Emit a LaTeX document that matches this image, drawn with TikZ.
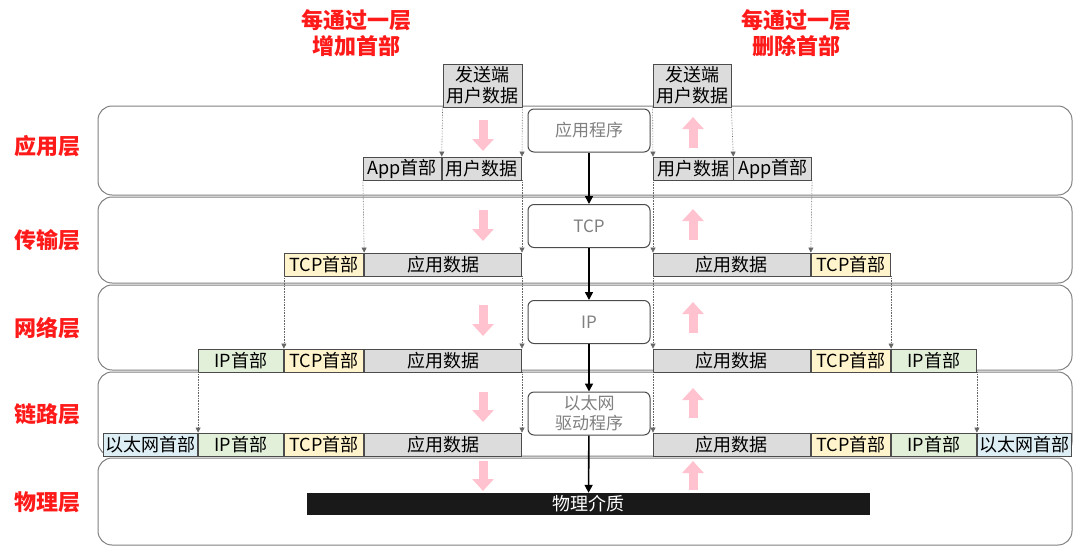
\documentclass[tikz,border=0pt]{standalone}
\usepackage{fontspec}
\setmainfont{Noto Sans CJK SC}
\usepackage{tikz}
\usetikzlibrary{arrows.meta,positioning}
\definecolor{hdrgray}{HTML}{DCDCDC}
\definecolor{hdryellow}{HTML}{FFF4CC}
\definecolor{hdrgreen}{HTML}{E2F0D9}
\definecolor{hdrblue}{HTML}{DDEEF5}
\definecolor{pinkarr}{HTML}{FFC2CE}
\definecolor{framegray}{HTML}{808080}
\definecolor{titlered}{HTML}{FF1A1A}
\tikzset{
  layerbox/.style={draw=framegray, line width=1pt, rounded corners=14pt,
    minimum width=974pt, inner sep=0pt},
  layername/.style={text=titlered, font=\fontsize{22}{25}\selectfont\bfseries},
  title/.style={text=titlered, align=center, font=\fontsize{22}{26}\selectfont\bfseries},
  seg/.style={draw=black!70, line width=0.8pt, fill=hdrgray, minimum height=23pt,
    inner sep=0pt, font=\fontsize{18}{20}\selectfont},
  datseg/.style={seg, minimum width=157pt},
  userseg/.style={seg, minimum width=79.5pt},
  appseg/.style={seg, minimum width=78pt},
  tcpseg/.style={seg, fill=hdryellow, minimum width=79.5pt},
  ipseg/.style={seg, fill=hdrgreen, minimum width=85pt},
  ethseg/.style={seg, fill=hdrblue, minimum width=94pt},
  sendbox/.style={seg, minimum height=43pt, align=center,
    font=\fontsize{18}{21}\selectfont},
  progbox/.style={draw=black!70, line width=1pt, fill=white, rounded corners=6pt,
    minimum width=122pt, minimum height=43pt, align=center, text=black!50,
    font=\fontsize{17}{20}\selectfont},
  guide/.style={densely dotted, draw=black!60, line width=0.6pt,
    -{Triangle[length=5pt,width=5pt]}},
  flow/.style={-{Triangle[length=8pt,width=8pt]}, line width=1.6pt},
  pinkdown/.style={draw=pinkarr, line width=9pt, -{Triangle[length=12pt,width=21pt]}}
}
\begin{document}
\begin{tikzpicture}[x=1pt,y=1pt]
  \useasboundingbox (0,0) rectangle (1080,-547);
  % layers
  \node[layerbox, minimum height=89pt] (applayer) at (585,-150.5) {};
  \node[layerbox, minimum height=86pt] (translayer) at (585,-240) {};
  \node[layerbox, minimum height=85pt] (netlayer) at (585,-327.5) {};
  \node[layerbox, minimum height=84pt] (linklayer) at (585,-414) {};
  \node[layerbox, minimum height=87pt] (physlayer) at (585,-501.5) {};
  \node[layername] (appname) at (48,-146) {应用层};
  \node[layername] (transname) at (48,-240) {传输层};
  \node[layername] (netname) at (48,-328) {网络层};
  \node[layername] (linkname) at (48,-414) {链路层};
  \node[layername] (physname) at (48,-502) {物理层};
  \node[title] (ltitle) at (356,-33) {每通过一层\\增加首部};
  \node[title] (rtitle) at (796,-33) {每通过一层\\删除首部};

  % protocol stack in the middle
  \node[progbox] (appprog) at (589,-130.5) {应用程序};
  \node[progbox] (tcpprog) at (589,-226) {TCP};
  \node[progbox] (ipprog) at (589,-322) {IP};
  \node[progbox, font=\fontsize{17}{20}\selectfont] (ethprog) at (589,-413.5) {以太网\\驱动程序};
  \node[fill=black!90, text=white, minimum width=563pt, minimum height=22pt, inner sep=0pt,
    font=\fontsize{18}{20}\selectfont] (medium) at (588.5,-504) {物理介质};
  \draw[flow] (appprog) -- (tcpprog);
  \draw[flow] (tcpprog) -- (ipprog);
  \draw[flow] (ipprog) -- (ethprog);
  \draw[flow] (ethprog) -- (medium);

  % sender side
  \node[sendbox, minimum width=79pt] (lsend) at (482.5,-85.5) {发送端\\用户数据};
  \node[userseg, anchor=east] (lappu) at (522,-168.5) {用户数据};
  \node[appseg, left=0pt of lappu] (lapph) {App首部};
  \node[datseg, anchor=east] (ltcpd) at (522,-264.5) {应用数据};
  \node[tcpseg, left=0pt of ltcpd] (ltcph) {TCP首部};
  \node[datseg, anchor=east] (lipd) at (522,-360.5) {应用数据};
  \node[tcpseg, left=0pt of lipd] (lipt) {TCP首部};
  \node[ipseg, left=0pt of lipt] (liph) {IP首部};
  \node[datseg, anchor=east] (llinkd) at (522,-444.5) {应用数据};
  \node[tcpseg, left=0pt of llinkd] (llinkt) {TCP首部};
  \node[ipseg, left=0pt of llinkt] (llinki) {IP首部};
  \node[ethseg, left=0pt of llinki] (llinke) {以太网首部};

  \draw[guide] (lsend.south west) -- (lappu.north west);
  \draw[guide] (lsend.south east) -- (lappu.north east);
  \draw[guide] (lapph.south west) -- (ltcph.north east);
  \draw[guide] (lappu.south east) -- (ltcpd.north east);
  \draw[guide] (ltcph.south west) -- (lipt.north west);
  \draw[guide] (ltcpd.south east) -- (lipd.north east);
  \draw[guide] (liph.south west) -- (llinki.north west);
  \draw[guide] (lipd.south east) -- (llinkd.north east);

  % receiver side
  \node[sendbox, minimum width=78pt] (rsend) at (692,-85.5) {发送端\\用户数据};
  \node[userseg, anchor=west] (rappu) at (653,-168.5) {用户数据};
  \node[appseg, right=0pt of rappu] (rapph) {App首部};
  \node[datseg, anchor=west] (rtcpd) at (653,-264.5) {应用数据};
  \node[tcpseg, right=0pt of rtcpd] (rtcph) {TCP首部};
  \node[datseg, anchor=west] (ripd) at (653,-360.5) {应用数据};
  \node[tcpseg, right=0pt of ripd] (ript) {TCP首部};
  \node[ipseg, right=0pt of ript] (riph) {IP首部};
  \node[datseg, anchor=west] (rlinkd) at (653,-444.5) {应用数据};
  \node[tcpseg, right=0pt of rlinkd] (rlinkt) {TCP首部};
  \node[ipseg, right=0pt of rlinkt] (rlinki) {IP首部};
  \node[ethseg, right=0pt of rlinki] (rlinke) {以太网首部};

  \draw[guide] (rsend.south west) -- (rappu.north west);
  \draw[guide] (rsend.south east) -- (rappu.north east);
  \draw[guide] (rappu.south west) -- (rtcpd.north west);
  \draw[guide] (rapph.south east) -- (rtcpd.north east);
  \draw[guide] (rtcpd.south west) -- (ripd.north west);
  \draw[guide] (rtcph.south east) -- (ript.north east);
  \draw[guide] (ripd.south west) -- (rlinkd.north west);
  \draw[guide] (riph.south east) -- (rlinki.north east);

  % pink arrows
  \foreach \ya/\yb in {120/151, 210/241, 305/336, 392/422, 461/491}
    \draw[pinkdown] (483,-\ya) -- (483,-\yb);
  \foreach \ya/\yb in {148/117, 240/209, 333/302, 418/388, 490/461}
    \draw[pinkdown] (693,-\ya) -- (693,-\yb);
\end{tikzpicture}
\end{document}
